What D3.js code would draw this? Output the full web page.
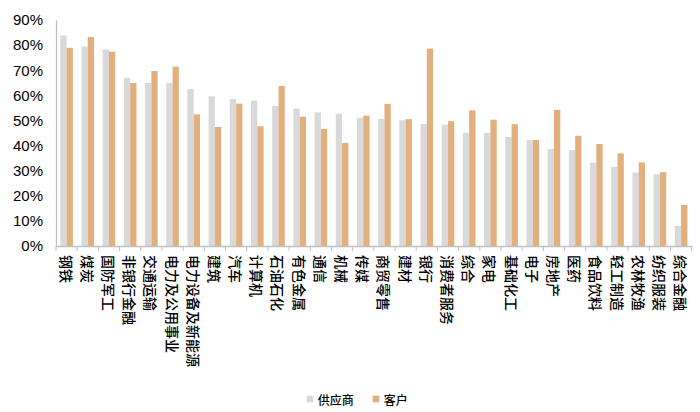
<!DOCTYPE html>
<html><head><meta charset="utf-8">
<script src="https://cdn.jsdelivr.net/npm/d3@7"></script>
<style>
html,body{margin:0;padding:0;background:#fff;}
svg{display:block;}
</style></head>
<body>
<script>
const categories = ["钢铁","煤炭","国防军工","非银行金融","交通运输","电力及公用事业","电力设备及新能源","建筑","汽车","计算机","石油石化","有色金属","通信","机械","传媒","商贸零售","建材","银行","消费者服务","综合","家电","基础化工","电子","房地产","医药","食品饮料","轻工制造","农林牧渔","纺织服装","综合金融"];
const seriesNames = ["供应商","客户"];
const supplier = [83.8,79.4,78.2,67.0,64.9,64.9,62.5,59.6,58.5,57.9,55.8,54.8,53.2,52.7,51.1,50.6,50.1,48.6,48.3,45.1,45.0,43.4,42.2,38.6,38.2,33.2,31.5,29.2,28.6,8.0];
const customer = [78.9,83.2,77.4,64.9,69.7,71.4,52.4,47.4,56.7,47.7,63.7,51.5,46.6,41.0,51.9,56.6,50.5,78.6,49.7,54.0,50.3,48.5,42.2,54.2,43.9,40.6,36.9,33.3,29.4,16.4];
const yTicks = [0,10,20,30,40,50,60,70,80,90];
const colors = ["#d9d9d9","#e2b07e"];

const W = 700, H = 412;
const svg = d3.select("body").append("svg").attr("width", W).attr("height", H);
const font = "'Liberation Sans', Arial, 'Noto Sans CJK SC', sans-serif";

const x0 = d3.scaleBand().domain(categories).range([56, 691.7]).paddingInner(0).paddingOuter(0);
const x1 = d3.scaleBand().domain(seriesNames).range([0, x0.bandwidth()]).paddingInner(0).paddingOuter(0.68);
const y = d3.scaleLinear().domain([0, 90]).range([246, 20]);

const data = categories.map((c, i) => ({cat: c, vals: [supplier[i], customer[i]]}));

// bars
const g = svg.append("g");
g.selectAll("g.cat").data(data).join("g").attr("class","cat")
  .attr("transform", d => `translate(${x0(d.cat)},0)`)
  .selectAll("rect").data(d => d.vals.map((v, k) => ({name: seriesNames[k], v, k})))
  .join("rect")
  .attr("x", d => x1(d.name))
  .attr("width", x1.bandwidth())
  .attr("y", d => y(d.v))
  .attr("height", d => y(0) - y(d.v))
  .attr("fill", d => colors[d.k]);

// y axis
const yAxis = d3.axisLeft(y).tickValues(yTicks).tickSize(0).tickPadding(13).tickFormat(d => d + "%");
const ya = svg.append("g").attr("transform", "translate(56,0)").call(yAxis);
ya.select(".domain").attr("stroke", "#bfbfbf").attr("stroke-width", 1.3);
ya.selectAll("text").attr("font-family", font).attr("font-size", 15).attr("fill", "#000");

// x axis
const xAxis = d3.axisBottom(x0).tickSizeOuter(0).tickSize(0).tickFormat("");
const xa = svg.append("g").attr("transform", `translate(0,${y(0)})`).call(xAxis);
xa.select(".domain").attr("stroke", "#bfbfbf").attr("stroke-width", 1.3);
// tick marks at category boundaries
const bounds = categories.map(c => x0(c)).concat([x0.range()[1]]);
xa.selectAll("line.bnd").data(bounds).join("line").attr("class","bnd")
  .attr("x1", d => d).attr("x2", d => d).attr("y1", 0).attr("y2", 5)
  .attr("stroke", "#bfbfbf").attr("stroke-width", 1);

// category labels (rotated)
svg.append("g").selectAll("text").data(categories).join("text")
  .attr("transform", d => `translate(${x0(d) + x0.bandwidth()/2},255) rotate(90)`)
  .attr("text-anchor", "start")
  .attr("dominant-baseline", "central")
  .attr("font-family", "'Noto Sans CJK SC', sans-serif")
  .attr("font-weight", 500)
  .attr("font-size", 14)
  .attr("fill", "#000")
  .text(d => d);

// legend
const legendX = [306.7, 372.7];
const lg = svg.append("g");
seriesNames.forEach((n, k) => {
  lg.append("rect").attr("x", legendX[k]).attr("y", 395.7).attr("width", 6.6).attr("height", 6.6).attr("fill", colors[k]);
  lg.append("text").attr("x", legendX[k] + 11).attr("y", 399).attr("dominant-baseline", "central")
    .attr("font-family", "'Noto Sans CJK SC', sans-serif").attr("font-weight", 500)
    .attr("font-size", 12).attr("fill", "#000").text(n);
});
</script>
</body></html>
